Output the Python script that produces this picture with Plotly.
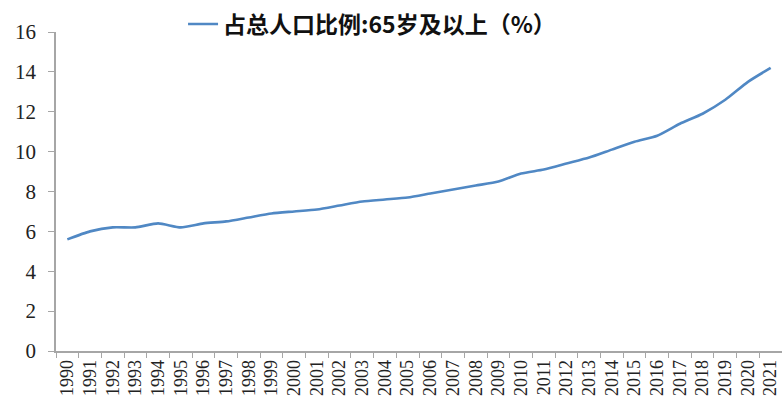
import plotly.graph_objects as go

# Share of population aged 65 and over, China, 1990-2021 (%)
years = [str(y) for y in range(1990, 2022)]
share_65_plus = [5.6, 6.0, 6.2, 6.2, 6.4, 6.2, 6.4, 6.5, 6.7, 6.9,
                 7.0, 7.1, 7.3, 7.5, 7.6, 7.7, 7.9, 8.1, 8.3, 8.5,
                 8.9, 9.1, 9.4, 9.7, 10.1, 10.5, 10.8, 11.4, 11.9, 12.6,
                 13.5, 14.2]
series_name = "占总人口比例:65岁及以上（%）"
y_ticks = [0, 2, 4, 6, 8, 10, 12, 14, 16]

axis_grey = "#a6a6a6"
serif = "Liberation Serif, Times New Roman, serif"

fig = go.Figure()
fig.add_trace(go.Scatter(
    x=years, y=share_65_plus, mode="lines", name=series_name,
    line=dict(color="#5088c4", width=2.6, shape="spline", smoothing=0.6),
))

fig.update_layout(
    width=782, height=407,
    margin=dict(l=56, r=0, t=32, b=56),
    paper_bgcolor="white", plot_bgcolor="white",
    showlegend=True,
    legend=dict(
        orientation="h", x=0.175, xanchor="left", y=1.025, yanchor="middle",
        font=dict(family="Noto Sans CJK SC", size=23, color="#111", weight="bold"),
        bgcolor="rgba(0,0,0,0)", itemwidth=30,
    ),
    xaxis=dict(
        type="category", range=[-0.5, len(years) - 0.5],
        tickmode="array", tickvals=years, ticktext=years,
        showline=True, linecolor=axis_grey, linewidth=1.5,
        ticks="outside", tickson="boundaries", ticklen=5, tickcolor=axis_grey,
        tickangle=-90, tickfont=dict(family=serif, size=18, color="#222"),
        showgrid=False, zeroline=False,
    ),
    yaxis=dict(
        range=[0, 16], tickvals=y_ticks,
        showline=True, linecolor=axis_grey, linewidth=1.5,
        ticks="outside", ticklen=6, tickcolor=axis_grey,
        ticklabelstandoff=8,
        tickfont=dict(family=serif, size=21, color="#222"),
        showgrid=False, zeroline=False,
    ),
)

fig.write_html("out.html")
